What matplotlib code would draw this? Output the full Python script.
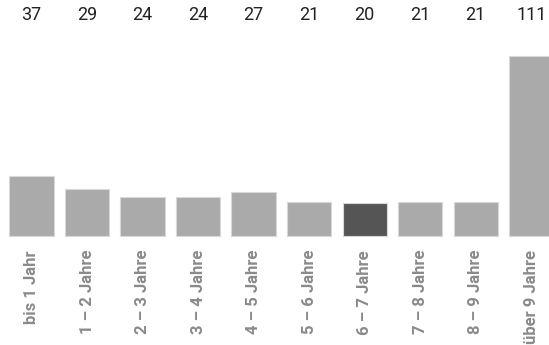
import matplotlib
matplotlib.use("Agg")
import matplotlib.pyplot as plt

categories = ["bis 1 Jahr", "1 – 2 Jahre", "2 – 3 Jahre", "3 – 4 Jahre", "4 – 5 Jahre",
              "5 – 6 Jahre", "6 – 7 Jahre", "7 – 8 Jahre", "8 – 9 Jahre", "über 9 Jahre"]
values = [37, 29, 24, 24, 27, 21, 20, 21, 21, 111]
highlight = 6

colors = ["#555555" if i == highlight else "#aaaaaa" for i in range(len(values))]

fig = plt.figure(figsize=(5.49, 3.45), dpi=100)
ax = fig.add_axes([0, 0, 1, 1])
x = list(range(len(values)))
ax.bar(x, values, width=0.8, color=colors, edgecolor="#d8d8d8", linewidth=0.8)

ax.set_xlim(-0.57, 9.32)
# data units: bar of 37 -> 60px, bottom at y=235.7 of 345
px = 37 / 60.0
ax.set_ylim(-(345 - 235.7) * px, 235.7 * px)

for i, v in enumerate(values):
    ax.text(i, (235.7 - 15) * px, str(v), ha="center", va="center",
            fontsize=13, color="#222222", family="Roboto")
    ax.text(i, -(250 - 235.7) * px, categories[i], ha="center", va="top", rotation=90,
            fontsize=12, color="#8a8a8a", fontweight="bold", family="Roboto")

ax.axis("off")
fig.savefig("out.png", dpi=100)
